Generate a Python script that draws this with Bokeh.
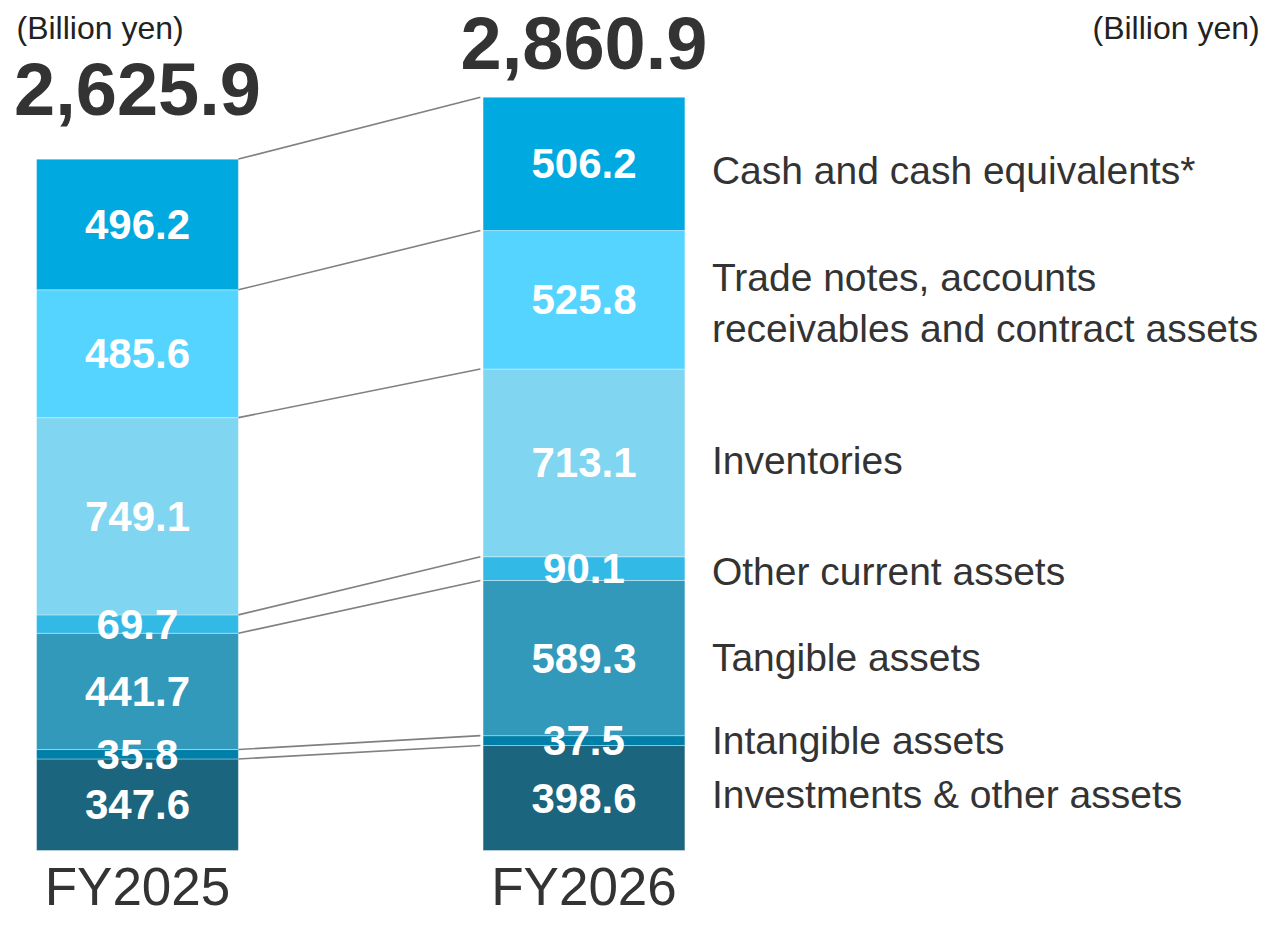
from bokeh.plotting import figure
from bokeh.models import Range1d, ColumnDataSource, Label
from bokeh.core.properties import value
from bokeh.embed import file_html
from bokeh.resources import INLINE

# ---------------- data ----------------
years = ["FY2025", "FY2026"]
totals = [2625.9, 2860.9]
total_labels = ["2,625.9", "2,860.9"]
# stacked bottom -> top
segments = [
    "Investments & other assets",
    "Intangible assets",
    "Tangible assets",
    "Other current assets",
    "Inventories",
    "Trade notes, accounts\nreceivables and contract assets",
    "Cash and cash equivalents*",
]
fy2025 = [347.6, 35.8, 441.7, 69.7, 749.1, 485.6, 496.2]
fy2026 = [398.6, 37.5, 589.3, 90.1, 713.1, 525.8, 506.2]
colors = ["#1B657E", "#007FA8", "#3399BB", "#33B9E6", "#80D5F0", "#55D4FF", "#00A9E0"]
unit_label = "(Billion yen)"

# ---------------- figure ----------------
W, H = 1262, 916
p = figure(width=W, height=H, output_backend="svg", toolbar_location=None,
           x_range=Range1d(-0.3068, 2.5196), y_range=Range1d(-250.7, 3228.2),
           min_border=0)
p.axis.visible = False
p.grid.visible = False
p.outline_line_color = None
p.background_fill_color = "white"
p.border_fill_color = "white"

bw = 0.452
half = bw / 2
font = value("Liberation Sans")

def cum(vals):
    out, s = [], 0.0
    for v in vals:
        out.append(s)
        s += v
    return out, s

series = [fy2025, fy2026]
for i, vals in enumerate(series):
    bottoms, _ = cum(vals)
    tops = [b + v for b, v in zip(bottoms, vals)]
    src = ColumnDataSource(dict(
        x=[i] * len(vals), bottom=bottoms, top=tops, color=colors,
        mid=[(b + t) / 2 for b, t in zip(bottoms, tops)],
        lab=[f"{v:.1f}" for v in vals]))
    p.vbar(x="x", width=bw, bottom="bottom", top="top", fill_color="color",
           line_color="white", line_alpha=0.35, line_width=1, source=src)
    p.text(x="x", y="mid", text="lab", source=src, text_color="white",
           text_font=font, text_font_style="bold", text_font_size="42px",
           text_align="center", text_baseline="middle", y_offset=0)

# connector lines between segment boundaries
b25, t25 = cum(fy2025)
b26, t26 = cum(fy2026)
lv25 = b25[1:] + [totals[0]]
lv26 = b26[1:] + [totals[1]]
p.segment(x0=[0 + half] * len(lv25), y0=lv25, x1=[1 - half - 0.006] * len(lv26), y1=lv26,
          line_color="#808080", line_width=1.6)

# totals above bars
tot_src = ColumnDataSource(dict(x=[0, 1], y=totals, t=total_labels, off=[-70, -54]))
p.text(x="x", y="y", text="t", y_offset="off", source=tot_src, text_color="#333333",
       text_font=font, text_font_style="bold", text_font_size="74px",
       text_align="center", text_baseline="middle")

# category labels
p.text(x=[0, 1], y=[0, 0], text=years, text_color="#333333", text_font=font,
       text_font_size="53px", text_align="center", text_baseline="middle",
       y_offset=36)

# right-hand segment names, aligned with FY2026 segments
mids26 = [b + v / 2 for b, v in zip(b26, fy2026)]
name_src = ColumnDataSource(dict(x=[1 + half] * len(segments), y=mids26, t=segments,
                                 off=[-4, 0, -1, 3, -2, 3, 7]))
p.text(x="x", y="y", text="t", y_offset="off", source=name_src, text_color="#333333",
       text_font=font, text_font_size="39px", text_align="left", text_baseline="middle",
       x_offset=27, text_line_height=1.18)

# unit labels
p.add_layout(Label(x=16, y=H - 27, x_units="screen", y_units="screen", text=unit_label,
                   text_font="Liberation Sans", text_font_size="32px", text_color="#222222",
                   text_baseline="alphabetic"))
p.add_layout(Label(x=1092, y=H - 27, x_units="screen", y_units="screen", text=unit_label,
                   text_font="Liberation Sans", text_font_size="32px", text_color="#222222",
                   text_baseline="alphabetic"))

open("out.html", "w").write(file_html(p, INLINE))
